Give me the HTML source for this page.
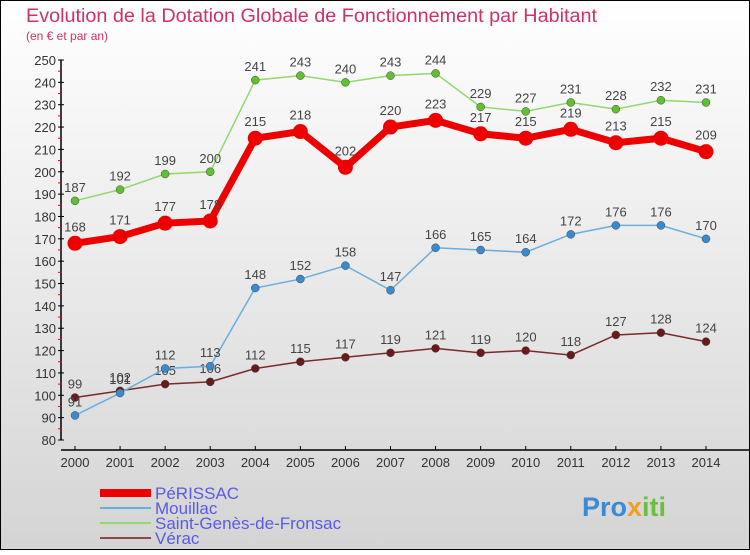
<!DOCTYPE html>
<html><head><meta charset="utf-8"><style>
body{margin:0;width:750px;height:550px;overflow:hidden;font-family:"Liberation Sans","DejaVu Sans",sans-serif}
</style></head><body>
<svg id="chart" width="750" height="550" xmlns="http://www.w3.org/2000/svg" font-family="Liberation Sans, DejaVu Sans, sans-serif">
<defs><linearGradient id="bg" x1="0" y1="0" x2="0" y2="1"><stop offset="0" stop-color="#ffffff"/><stop offset="1" stop-color="#d4d4d4"/></linearGradient></defs>
<rect x="0.5" y="0.5" width="749" height="549" fill="url(#bg)" stroke="#000" stroke-width="1"/>
<text x="26" y="22" font-size="19" fill="#d0306a" textLength="571" lengthAdjust="spacingAndGlyphs">Evolution de la Dotation Globale de Fonctionnement par Habitant</text>
<text x="26" y="40" font-size="12" fill="#d0306a">(en € et par an)</text>
<g id="axes"></g><g id="series"></g><g id="legend"></g>
<text x="582" y="516" font-size="27" font-weight="bold" fill="#3a8ad8">Pro<tspan fill="#f0a020">x</tspan><tspan fill="#6cc040">iti</tspan></text>
</svg>
<script>
const years=[2000,2001,2002,2003,2004,2005,2006,2007,2008,2009,2010,2011,2012,2013,2014];
const yTicks=[80,90,100,110,120,130,140,150,160,170,180,190,200,210,220,230,240,250];
const perissac=[168,171,177,178,215,218,202,220,223,217,215,219,213,215,209];
const mouillac=[91,101,112,113,148,152,158,147,166,165,164,172,176,176,170];
const saintGenes=[187,192,199,200,241,243,240,243,244,229,227,231,228,232,231];
const verac=[99,102,105,106,112,115,117,119,121,119,120,118,127,128,124];
const seriesNames=["PéRISSAC","Mouillac","Saint-Genès-de-Fronsac","Vérac"];
const NS="http://www.w3.org/2000/svg";
const xs=i=>75+i*(706-75)/(years.length-1);
const ys=v=>440-(v-80)*(380/170);
function mk(tag,attrs,parent,txt){const e=document.createElementNS(NS,tag);for(const k in attrs)e.setAttribute(k,attrs[k]);if(txt!==undefined)e.textContent=txt;parent.appendChild(e);return e;}
const axes=document.getElementById('axes');
let a=mk('line',{x1:61,y1:60,x2:61,y2:440,stroke:'#000','stroke-width':1.5},axes);


yTicks.forEach((t,i)=>{
  mk('line',{x1:58,y1:ys(t),x2:64,y2:ys(t),stroke:'#000'},axes);
  if(i<yTicks.length-1)mk('line',{x1:58,y1:ys(t+5),x2:62,y2:ys(t+5),stroke:'#e00'},axes);
  const l=mk('text',{x:56,y:ys(t)+5,'font-size':13,'text-anchor':'end',fill:'#333'},axes,t);
  
  
});
a=mk('line',{x1:61,y1:450,x2:750,y2:450,stroke:'#000','stroke-width':1.5},axes);


years.forEach((y,i)=>{
  mk('line',{x1:xs(i),y1:446,x2:xs(i),y2:450,stroke:'#000'},axes);
  const l=mk('text',{x:xs(i),y:467,'font-size':13,'text-anchor':'middle',fill:'#333'},axes,y);
  
  
});
const sg=document.getElementById('series');
const defs=[[verac,'#7a2a2a','#6a1a1a',1.5,4,'verac'],[mouillac,'#6aaedc','#3a8ad0',1.5,4,'mouillac'],[saintGenes,'#90d870','#60c030',1.5,4,'saint-genes'],[perissac,'#ee0000','#ee0000',7,7.5,'perissac']];
defs.forEach(([data,lc,pc,w,r,nm])=>{
  const g=mk('g',{},sg);
  
  
  const pl=mk('polyline',{points:data.map((v,i)=>xs(i)+','+ys(v)).join(' '),fill:'none',stroke:lc,'stroke-width':w},g);
  
  
  data.forEach((v,i)=>{
    const c=mk('circle',{cx:xs(i),cy:ys(v),r:r,fill:pc,stroke:r>5?'none':'#444','stroke-width':0.5},g);
    
    
    const t=mk('text',{x:xs(i),y:ys(v)-(r>5?12:9),'font-size':13,'text-anchor':'middle',fill:'#444'},g,v);
    
    
  });
});
const lg=document.getElementById('legend');
const lcols=[['#ee0000',8],['#6aaedc',2],['#90d870',2],['#8a4a4a',2]];
seriesNames.forEach((n,i)=>{
  const y=493+i*15;
  const g=mk('g',{},lg);
  
  
  mk('line',{x1:100,y1:y,x2:151,y2:y,stroke:lcols[i][0],'stroke-width':lcols[i][1]},g);
  mk('text',{x:155,y:y+6,'font-size':17,fill:'#5a5ae8'},g,n);
});
</script>
</body></html>
